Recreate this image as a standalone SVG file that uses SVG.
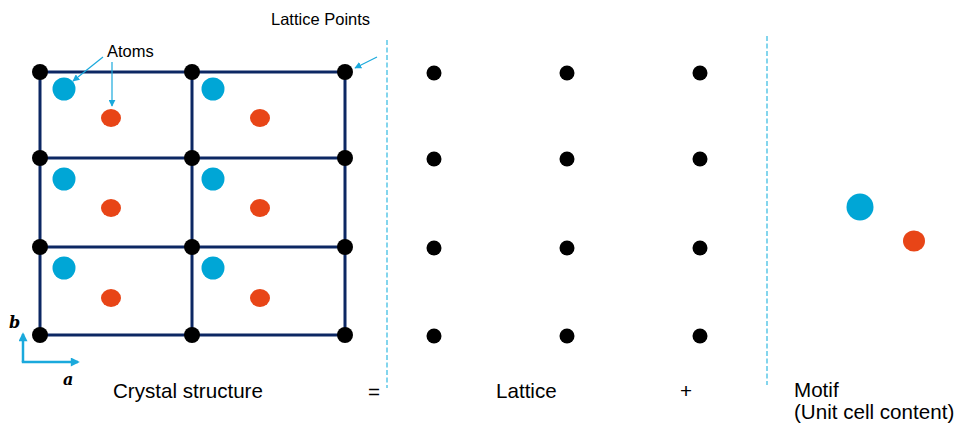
<svg xmlns="http://www.w3.org/2000/svg" width="956" height="426" viewBox="0 0 956 426">
<style>
.grid{stroke:#0c2763;stroke-width:3;fill:none}
.lp{fill:#000}
.blue{fill:#00a6d6}
.orange{fill:#e84517}
.dash{stroke:#5bc8e8;stroke-width:1.5;stroke-dasharray:5 2.5;fill:none}
.arr{stroke:#1aa9dc;stroke-width:1.2;fill:none;marker-end:url(#ah)}
.ax{stroke:#1aa9dc;stroke-width:2.5;fill:none}
text{font-family:"Liberation Sans",Arial,sans-serif;fill:#000}
.lbl{font-size:16.5px}
.big{font-size:20.6px}
.vec{font-family:"DejaVu Serif","Liberation Serif",serif;font-weight:bold;font-style:italic;font-size:16px}
</style>
<defs>
<marker id="ah" viewBox="0 0 10 10" refX="9" refY="5" markerWidth="7" markerHeight="7" orient="auto" markerUnits="userSpaceOnUse">
<path d="M0,0 L10,5 L0,10 z" fill="#1aa9dc"/>
</marker>
<marker id="axh" viewBox="0 0 10 10" refX="8" refY="5" markerWidth="10" markerHeight="9" orient="auto" markerUnits="userSpaceOnUse">
<path d="M0,0 L10,5 L0,10 z" fill="#1aa9dc"/>
</marker>
</defs>
<g id="crystal">
<path class="grid" d="M40,72 H345 M40,158 H345 M40,247 H345 M40,335 H345 M40,72 V335 M192,72 V335 M345,72 V335"/>
<g id="crystal-atoms">
<circle class="blue" cx="64" cy="89" r="11.5"/><circle class="blue" cx="213" cy="89" r="11.5"/>
<circle class="blue" cx="64" cy="179" r="11.5"/><circle class="blue" cx="213" cy="179" r="11.5"/>
<circle class="blue" cx="64" cy="268" r="11.5"/><circle class="blue" cx="213" cy="268" r="11.5"/>
<ellipse class="orange" cx="111" cy="118" rx="10" ry="9"/><ellipse class="orange" cx="260" cy="118" rx="10" ry="9"/>
<ellipse class="orange" cx="111" cy="208" rx="10" ry="9"/><ellipse class="orange" cx="260" cy="208" rx="10" ry="9"/>
<ellipse class="orange" cx="111" cy="298" rx="10" ry="9"/><ellipse class="orange" cx="260" cy="298" rx="10" ry="9"/>
</g>
<g id="crystal-points">
<circle class="lp" cx="40" cy="72" r="8"/><circle class="lp" cx="192" cy="72" r="8"/><circle class="lp" cx="345" cy="72" r="8"/>
<circle class="lp" cx="40" cy="158" r="8"/><circle class="lp" cx="192" cy="158" r="8"/><circle class="lp" cx="345" cy="158" r="8"/>
<circle class="lp" cx="40" cy="247" r="8"/><circle class="lp" cx="192" cy="247" r="8"/><circle class="lp" cx="345" cy="247" r="8"/>
<circle class="lp" cx="40" cy="335" r="8"/><circle class="lp" cx="192" cy="335" r="8"/><circle class="lp" cx="345" cy="335" r="8"/>
</g>
</g>
<g id="lattice">
<circle class="lp" cx="434" cy="73" r="7.5"/><circle class="lp" cx="567" cy="73" r="7.5"/><circle class="lp" cx="700" cy="73" r="7.5"/>
<circle class="lp" cx="434" cy="159" r="7.5"/><circle class="lp" cx="567" cy="159" r="7.5"/><circle class="lp" cx="700" cy="159" r="7.5"/>
<circle class="lp" cx="434" cy="248" r="7.5"/><circle class="lp" cx="567" cy="248" r="7.5"/><circle class="lp" cx="700" cy="248" r="7.5"/>
<circle class="lp" cx="434" cy="336" r="7.5"/><circle class="lp" cx="567" cy="336" r="7.5"/><circle class="lp" cx="700" cy="336" r="7.5"/>
</g>
<g id="motif">
<circle class="blue" cx="860" cy="207" r="13.5"/>
<ellipse class="orange" cx="914" cy="241" rx="11" ry="10.5"/>
</g>
<g id="dividers">
<line class="dash" x1="387" y1="40" x2="387" y2="388"/>
<line class="dash" x1="767" y1="36" x2="767" y2="385"/>
</g>
<g id="connectors">
<line class="arr" x1="103" y1="57" x2="73" y2="81"/>
<line class="arr" x1="112" y1="62" x2="112" y2="106"/>
<line class="arr" x1="377" y1="57" x2="355" y2="68"/>
<polyline class="ax" points="23,362 23,334" marker-end="url(#axh)"/>
<polyline class="ax" points="21.8,362 78,362" marker-end="url(#axh)"/>
</g>
<g id="labels">
<text class="lbl" x="271" y="25">Lattice Points</text>
<text class="lbl" x="107" y="57">Atoms</text>
<text class="vec" x="9" y="328">b</text>
<text class="vec" x="63" y="385">a</text>
<text class="big" x="113" y="398">Crystal structure</text>
<text class="big" x="368" y="399">=</text>
<text class="big" x="496" y="398">Lattice</text>
<text class="big" x="680" y="398">+</text>
<text class="big" x="794" y="397">Motif</text>
<text class="big" x="794" y="419">(Unit cell content)</text>
</g>
</svg>
